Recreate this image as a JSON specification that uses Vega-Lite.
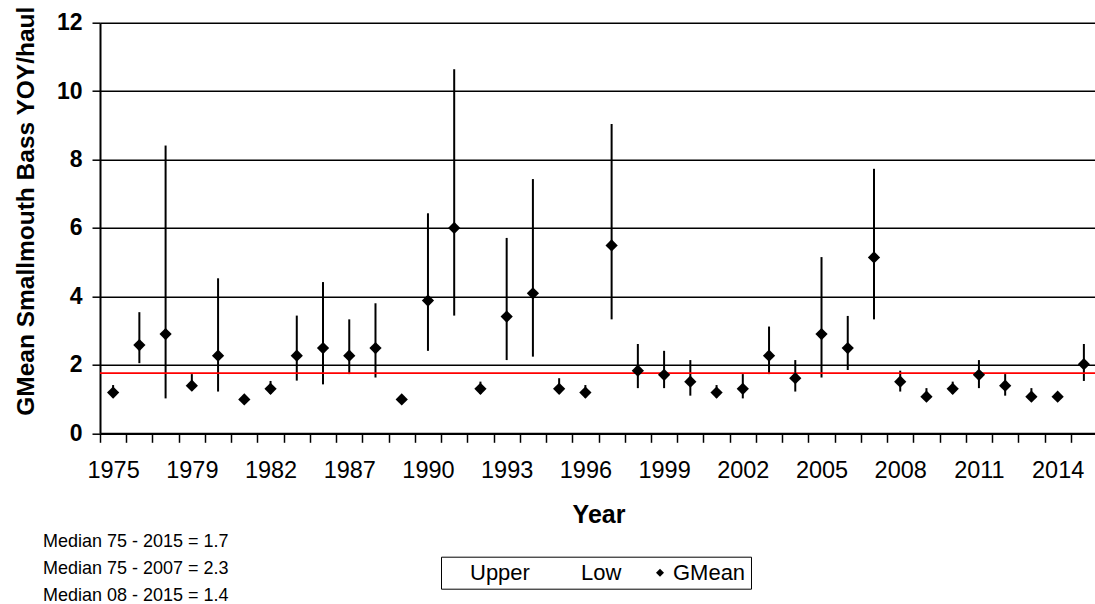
{
  "$schema": "https://vega.github.io/schema/vega-lite/v6.json",
  "width": 997,
  "height": 410.6,
  "autosize": {"type": "none"},
  "padding": {"left": 100, "top": 22.7, "right": 0, "bottom": 171},
  "background": "white",
  "config": {
    "font": "Liberation Sans",
    "view": {"stroke": null},
    "axis": {"labelColor": "black", "titleColor": "black", "domainColor": "black", "tickColor": "black"}
  },
  "title": {
    "text": ["Median 75 - 2015 = 1.7", "Median 75 - 2007 = 2.3", "Median 08 - 2015 = 1.4"],
    "orient": "bottom",
    "anchor": "start",
    "frame": "group",
    "dx": -57,
    "offset": -56,
    "fontSize": 18,
    "fontWeight": "normal",
    "lineHeight": 27,
    "color": "black",
    "font": "Liberation Sans"
  },
  "data": {
    "values": [
      {"Year": "1975", "GMean": 1.19, "Low": 1.05, "Upper": 1.41},
      {"Year": "1976", "GMean": 2.58, "Low": 2.05, "Upper": 3.54},
      {"Year": "1977", "GMean": 2.9, "Low": 1.02, "Upper": 8.41},
      {"Year": "1979", "GMean": 1.39, "Low": 1.25, "Upper": 1.73},
      {"Year": "1980", "GMean": 2.27, "Low": 1.22, "Upper": 4.53},
      {"Year": "1981", "GMean": 0.99, "Low": 0.9, "Upper": 1.1},
      {"Year": "1982", "GMean": 1.3, "Low": 1.15, "Upper": 1.53},
      {"Year": "1983", "GMean": 2.27, "Low": 1.54, "Upper": 3.44},
      {"Year": "1985", "GMean": 2.49, "Low": 1.43, "Upper": 4.42},
      {"Year": "1987", "GMean": 2.27, "Low": 1.73, "Upper": 3.33},
      {"Year": "1988", "GMean": 2.49, "Low": 1.63, "Upper": 3.8},
      {"Year": "1989", "GMean": 0.99, "Low": 0.9, "Upper": 1.1},
      {"Year": "1990", "GMean": 3.88, "Low": 2.41, "Upper": 6.43},
      {"Year": "1991", "GMean": 6.0, "Low": 3.44, "Upper": 10.64},
      {"Year": "1992", "GMean": 1.3, "Low": 1.15, "Upper": 1.51},
      {"Year": "1993", "GMean": 3.41, "Low": 2.14, "Upper": 5.71},
      {"Year": "1994", "GMean": 4.09, "Low": 2.24, "Upper": 7.43},
      {"Year": "1995", "GMean": 1.3, "Low": 1.15, "Upper": 1.61},
      {"Year": "1996", "GMean": 1.19, "Low": 1.05, "Upper": 1.41},
      {"Year": "1997", "GMean": 5.49, "Low": 3.33, "Upper": 9.04},
      {"Year": "1998", "GMean": 1.83, "Low": 1.32, "Upper": 2.61},
      {"Year": "1999", "GMean": 1.71, "Low": 1.32, "Upper": 2.41},
      {"Year": "2000", "GMean": 1.51, "Low": 1.1, "Upper": 2.14},
      {"Year": "2001", "GMean": 1.19, "Low": 1.05, "Upper": 1.41},
      {"Year": "2002", "GMean": 1.3, "Low": 1.02, "Upper": 1.73},
      {"Year": "2003", "GMean": 2.27, "Low": 1.73, "Upper": 3.12},
      {"Year": "2004", "GMean": 1.61, "Low": 1.22, "Upper": 2.14},
      {"Year": "2005", "GMean": 2.9, "Low": 1.63, "Upper": 5.15},
      {"Year": "2006", "GMean": 2.49, "Low": 1.85, "Upper": 3.43},
      {"Year": "2007", "GMean": 5.14, "Low": 3.33, "Upper": 7.73},
      {"Year": "2008", "GMean": 1.51, "Low": 1.22, "Upper": 1.83},
      {"Year": "2009", "GMean": 1.07, "Low": 0.95, "Upper": 1.32},
      {"Year": "2010", "GMean": 1.3, "Low": 1.15, "Upper": 1.51},
      {"Year": "2011", "GMean": 1.71, "Low": 1.32, "Upper": 2.14},
      {"Year": "2012", "GMean": 1.39, "Low": 1.1, "Upper": 1.73},
      {"Year": "2013", "GMean": 1.07, "Low": 0.95, "Upper": 1.32},
      {"Year": "2014", "GMean": 1.07, "Low": 0.95, "Upper": 1.2},
      {"Year": "2015", "GMean": 2.02, "Low": 1.53, "Upper": 2.61}
    ]
  },
  "encoding": {
    "x": {
      "field": "Year",
      "type": "ordinal",
      "sort": null,
      "scale": {"type": "band", "paddingInner": 0, "paddingOuter": 0},
      "axis": {
        "title": "Year",
        "titleFontSize": 25,
        "titleFontWeight": "bold",
        "titleBaseline": "alphabetic",
        "titleY": 89.4,
        "labelAngle": 0,
        "labelFontSize": 23.5,
        "labelPadding": 16,
        "labelOverlap": false,
        "labelExpr": "indexof(['1975','1979','1982','1987','1990','1993','1996','1999','2002','2005','2008','2011','2014'], datum.value) >= 0 ? datum.value : ''",
        "tickBand": "extent",
        "tickSize": 9,
        "tickWidth": 1.5,
        "domainWidth": 2,
        "grid": false
      }
    }
  },
  "layer": [
    {
      "mark": {"type": "rule", "color": "black", "strokeWidth": 2},
      "encoding": {
        "y": {
          "field": "Low",
          "type": "quantitative",
          "scale": {"domain": [0, 12], "nice": false, "zero": true},
          "axis": {
            "title": "GMean Smallmouth Bass YOY/haul",
            "titleFontSize": 24.5,
            "titleFontWeight": "bold",
            "titleBaseline": "alphabetic",
            "titleAlign": "center",
            "titleAngle": 270,
            "titleX": -67,
            "titleY": 188,
            "values": [0, 2, 4, 6, 8, 10, 12],
            "labelFontSize": 23,
            "labelFontWeight": "bold",
            "labelPadding": 10,
            "tickSize": 8,
            "tickWidth": 1.5,
            "domainWidth": 2,
            "grid": true,
            "gridColor": "black",
            "gridWidth": 1.4,
            "gridOpacity": 1
          }
        },
        "y2": {"field": "Upper"}
      }
    },
    {
      "data": {"values": [{"Median": 1.76}]},
      "mark": {"type": "rule", "color": "#ff0000", "strokeWidth": 1.6},
      "encoding": {
        "x": null,
        "y": {"field": "Median", "type": "quantitative"}
      }
    },
    {
      "mark": {"type": "point", "shape": "diamond", "filled": true, "size": 150, "opacity": 1},
      "encoding": {
        "y": {"field": "GMean", "type": "quantitative"},
        "color": {
          "datum": "GMean",
          "scale": {"domain": ["Upper", "Low", "GMean"], "range": ["transparent", "transparent", "black"]},
          "legend": {
            "orient": "none",
            "legendX": 341,
            "legendY": 534,
            "direction": "horizontal",
            "title": null,
            "strokeColor": "black",
            "padding": 5,
            "symbolType": "diamond",
            "symbolSize": 64,
            "symbolStrokeWidth": 0,
            "labelFontSize": 22,
            "labelColor": "black",
            "labelOffset": 2,
            "columnPadding": 27
          }
        }
      }
    }
  ]
}
